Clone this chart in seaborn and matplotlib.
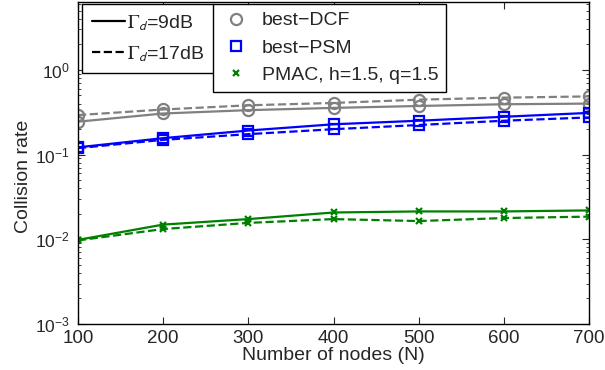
import matplotlib
matplotlib.use("Agg")
import matplotlib.pyplot as plt
from matplotlib.lines import Line2D
from matplotlib.ticker import LogLocator, FixedLocator
import seaborn as sns
import pandas as pd
import numpy as np

# ---- data ----
nodes = [100, 200, 300, 400, 500, 600, 700]
dcf_9 = [0.244, 0.305, 0.334, 0.355, 0.374, 0.392, 0.399]
dcf_17 = [0.292, 0.340, 0.381, 0.406, 0.444, 0.469, 0.485]
psm_9 = [0.1216, 0.156, 0.192, 0.2275, 0.2505, 0.279, 0.310]
psm_17 = [0.119, 0.149, 0.174, 0.199, 0.223, 0.2505, 0.274]
pmac_9 = [0.00984, 0.0149, 0.0173, 0.0207, 0.0213, 0.0213, 0.0219]
pmac_17 = [0.0097, 0.0132, 0.0156, 0.0173, 0.0164, 0.0178, 0.0185]

protocols = ["best\u2212DCF", "best\u2212PSM", "PMAC, h=1.5, q=1.5"]
gamma_labels = [r"$\Gamma_{\mathsf{d}}$=9dB", r"$\Gamma_{\mathsf{d}}$=17dB"]
x_label = "Number of nodes (N)"
y_label = "Collision rate"

rows = []
for proto, s9, s17 in zip(protocols, [dcf_9, psm_9, pmac_9], [dcf_17, psm_17, pmac_17]):
    for n, v in zip(nodes, s9):
        rows.append((proto, "9dB", n, v))
    for n, v in zip(nodes, s17):
        rows.append((proto, "17dB", n, v))
df = pd.DataFrame(rows, columns=["protocol", "gamma", "nodes", "rate"])

sns.set_style("ticks")
plt.rcParams["font.family"] = ["Liberation Sans", "DejaVu Sans"]
plt.rcParams["mathtext.fontset"] = "stix"
plt.rcParams["xtick.direction"] = "in"
plt.rcParams["ytick.direction"] = "in"

colors = {protocols[0]: (0.5, 0.5, 0.5), protocols[1]: (0.0, 0.0, 1.0), protocols[2]: (0.0, 0.5, 0.0)}
markers = {protocols[0]: "o", protocols[1]: "s", protocols[2]: "x"}
msizes = {protocols[0]: 8, protocols[1]: 6.5, protocols[2]: 5}
styles = {"9dB": "-", "17dB": "--"}

fig = plt.figure(figsize=(6.05, 3.70), dpi=100)
ax = fig.add_axes([78 / 605, 1 - 324 / 370, (589 - 78) / 605, (324 - 2) / 370])

for proto in protocols:
    for g in ["9dB", "17dB"]:
        sub = df[(df.protocol == proto) & (df.gamma == g)]
        sns.lineplot(data=sub, x="nodes", y="rate", ax=ax, color=colors[proto],
                     linestyle=styles[g], linewidth=1.6, marker=markers[proto],
                     markersize=msizes[proto], markerfacecolor="none",
                     markeredgecolor=colors[proto], markeredgewidth=1.6,
                     legend=False, errorbar=None)

ax.set_yscale("log")
ax.set_xlim(100, 700)
ax.set_ylim(1e-3, 10 ** 0.8)
ax.set_xticks(nodes)
ax.yaxis.set_major_locator(FixedLocator([1e-3, 1e-2, 1e-1, 1e0]))
ax.yaxis.set_minor_locator(LogLocator(base=10, subs=np.arange(2, 10), numticks=20))
ax.tick_params(axis="both", which="both", top=True, right=True)
ax.tick_params(axis="x", which="major", pad=4, labelsize=13.5)
ax.tick_params(axis="y", which="major", pad=6, labelsize=12.5)
ax.tick_params(which="major", length=5, width=0.8)
ax.tick_params(which="minor", length=2.5, width=0.6)
ax.set_xlabel(x_label, fontsize=14, labelpad=0)
ax.set_ylabel(y_label, fontsize=14)
ax.yaxis.set_label_coords(-0.09, 0.46)
for sp in ax.spines.values():
    sp.set_linewidth(1.0)
    sp.set_color("black")

# legend 1: line styles
h1 = [Line2D([], [], color="black", linestyle=styles[g], linewidth=1.6) for g in ["9dB", "17dB"]]
leg1 = fig.legend(h1, gamma_labels, loc="upper left", bbox_to_anchor=(82 / 605, 1 - 4 / 370),
                  fontsize=14, frameon=True, fancybox=False, framealpha=1, edgecolor="black",
                  handlelength=1.7, handletextpad=0.1, labelspacing=0.6, borderpad=0.5,
                  borderaxespad=0)
leg1.get_frame().set_linewidth(1.0)

# legend 2: markers
h2 = [Line2D([], [], color=colors[p], linestyle="none", marker=markers[p],
             markersize=msizes[p], markerfacecolor="none", markeredgewidth=1.6) for p in protocols]
leg2 = fig.legend(h2, protocols, loc="upper left", bbox_to_anchor=(213 / 605, 1 - 4 / 370),
                  fontsize=14, frameon=True, fancybox=False, framealpha=1, edgecolor="black",
                  handlelength=1.6, handletextpad=0.5, labelspacing=0.5, borderpad=0.4,
                  borderaxespad=0)
leg2.get_frame().set_linewidth(1.0)

fig.savefig("out.png", dpi=100)
